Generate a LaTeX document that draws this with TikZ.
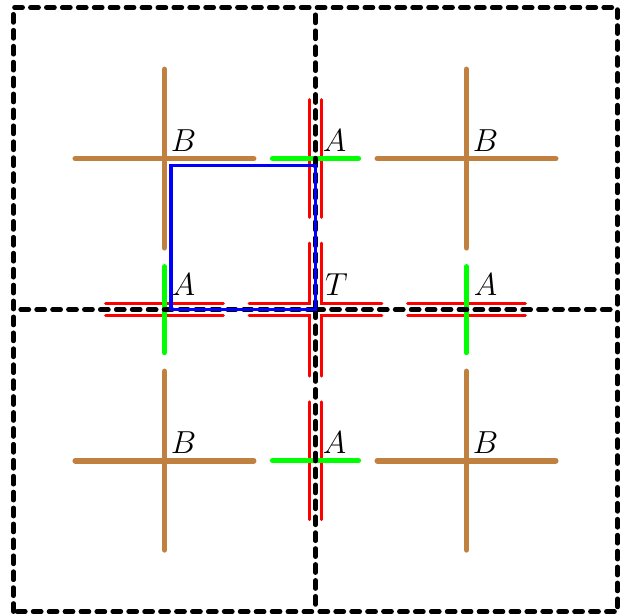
\documentclass[tikz,border=0pt]{standalone}
\usetikzlibrary{positioning}

\begin{document}
\begin{tikzpicture}[x=2cm,y=2cm,
  cellline/.style={black,line width=1.7pt,line cap=round,dash pattern=on 3.1pt off 2.9pt},
  bstick/.style={brown,line width=2.2pt,line cap=round},
  gstick/.style={green,line width=1.9pt,line cap=round},
  rline/.style={red,line width=1.1pt,line cap=round},
  plaq/.style={blue,line width=1.4pt},
  lbl/.style={anchor=base west,inner sep=0pt,font=\large}]
\useasboundingbox (-2.089,-2.023) rectangle (2.036,2.050);
% sites
\coordinate (T) at (0,0);
\coordinate (An) at (0,1);
\coordinate (As) at (0,-1);
\coordinate (Aw) at (-1,0);
\coordinate (Ae) at (1,0);
\coordinate (Bnw) at (-1,1);
\coordinate (Bne) at (1,1);
\coordinate (Bsw) at (-1,-1);
\coordinate (Bse) at (1,-1);
% B crosses
\foreach \c in {Bnw,Bne,Bsw,Bse}{
  \begin{scope}[shift={(\c)}]
    \draw[bstick] (-0.59,0) -- (0.59,0) (0,-0.59) -- (0,0.59);
  \end{scope}}
% A sites
\foreach \c/\r in {An/0,As/0,Aw/90,Ae/90}{
  \begin{scope}[shift={(\c)},rotate=\r]
    \draw[rline] (-0.04,-0.39) -- (-0.04,0.39) (0.04,-0.39) -- (0.04,0.39);
    \draw[gstick] (-0.285,0) -- (0.285,0);
  \end{scope}}
% T site
\foreach \r in {0,90,180,270}
  \draw[rline,rotate=\r] (0.44,0.04) -- (0.04,0.04) -- (0.04,0.44);
% cells
\draw[cellline] (-2,-2) rectangle (2,2);
\draw[cellline] (T) -- (0,2) (T) -- (0,-2) (T) -- (-2,0) (T) -- (2,0);
% plaquette
\draw[plaq] (-0.955,0) rectangle (0,0.955);
% labels
\node[lbl] (lT) at ([shift={(3.4pt,5.5pt)}]T) {$T$};
\node[lbl] (lAn) at ([shift={(2.6pt,2.6pt)}]An) {$A$};
\node[lbl] (lAs) at ([shift={(2.6pt,2.6pt)}]As) {$A$};
\node[lbl] (lAw) at ([shift={(2.6pt,5.5pt)}]Aw) {$A$};
\node[lbl] (lAe) at ([shift={(2.6pt,5.5pt)}]Ae) {$A$};
\node[lbl] (lBnw) at ([shift={(2.2pt,2.6pt)}]Bnw) {$B$};
\node[lbl] (lBne) at ([shift={(2.2pt,2.6pt)}]Bne) {$B$};
\node[lbl] (lBsw) at ([shift={(2.2pt,2.6pt)}]Bsw) {$B$};
\node[lbl] (lBse) at ([shift={(2.2pt,2.6pt)}]Bse) {$B$};
\end{tikzpicture}
\end{document}
